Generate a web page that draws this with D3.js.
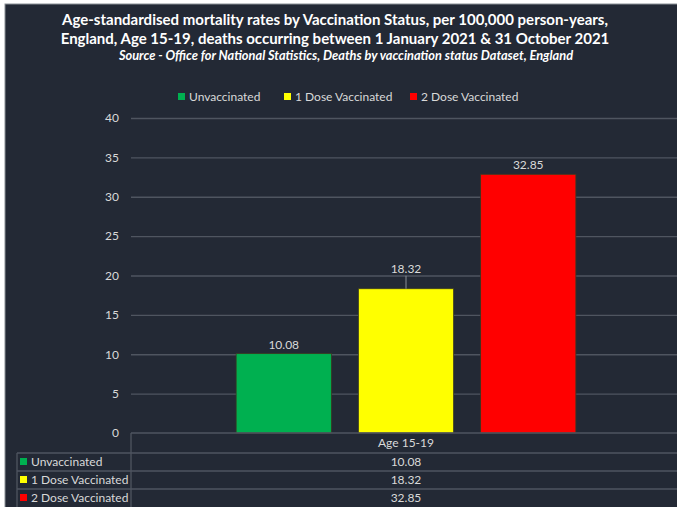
<!DOCTYPE html>
<html>
<head>
<meta charset="utf-8">
<script src="https://cdn.jsdelivr.net/npm/d3@7"></script>
<style>
  body { margin: 0; background: #ffffff; }
  svg { display: block; }
</style>
</head>
<body>
<div id="chart"></div>
<script>
// data
var categories = ["Age 15-19"],
	series = ["Unvaccinated", "1 Dose Vaccinated", "2 Dose Vaccinated"],
	values = [10.08, 18.32, 32.85],
	colors = ["#00b050", "#ffff00", "#ff0000"],
	yTicks = [0, 5, 10, 15, 20, 25, 30, 35, 40];

var width = 677,
	height = 507,
	BG = "#232935",
	GRID = "#4f5560",
	TEXT = "#d9d9d9",
	FONT = "Lato, 'Open Sans', sans-serif";

var svg = d3.select("#chart").append("svg")
	.attr("width", width)
	.attr("height", height);

// dark chart area, with a thin light rim on top and left
svg.append("rect")
	.attr("x", 5).attr("y", 4)
	.attr("width", width).attr("height", height)
	.style("fill", BG)
	.style("stroke", "#8a8f96")
	.style("stroke-width", 1);

// titles
var titles = svg.append("g").style("font-family", FONT).style("text-anchor", "middle");
titles.append("text")
	.attr("x", 335).attr("y", 25)
	.text("Age-standardised mortality rates by Vaccination Status, per 100,000 person-years,")
	.style("fill", "#ffffff").style("font-weight", "bold").style("font-size", "15px");
titles.append("text")
	.attr("x", 335).attr("y", 44)
	.text("England, Age 15-19, deaths occurring between 1 January 2021 & 31 October 2021")
	.style("fill", "#ffffff").style("font-weight", "bold").style("font-size", "15px");
titles.append("text")
	.attr("x", 346).attr("y", 60)
	.text("Source - Office for National Statistics, Deaths by vaccination status Dataset, England")
	.style("fill", "#ffffff").style("font-weight", "bold").style("font-style", "italic").style("font-size", "12.8px");

// legend on top
var legendX = [178, 284, 410];
var legend = svg.append("g").attr("id", "legend");
var items = legend.selectAll(".item")
	.data(series)
	.enter()
	.append("g")
	.attr("transform", function(d, i) { return "translate(" + legendX[i] + ",97)"; });
items.append("rect")
	.attr("x", 0).attr("y", -4)
	.attr("width", 7).attr("height", 7)
	.style("fill", function(d, i) { return colors[i]; });
items.append("text")
	.attr("x", 11).attr("y", 4)
	.text(function(d) { return d; })
	.style("fill", TEXT).style("font-family", FONT).style("font-size", "12px");

// scales
var plot = { left: 131, right: 681, top: 118, bottom: 433 };

var y = d3.scaleLinear()
	.domain([0, 40])
	.range([plot.bottom, plot.top]);

var x0 = d3.scaleBand()
	.domain(categories)
	.range([plot.left, plot.right]);

var x1 = d3.scaleBand()
	.domain(series)
	.range([0, x0.bandwidth()])
	.paddingInner(0.221)
	.paddingOuter(0.86);

// gridlines + y labels
var yAxis = d3.axisLeft(y)
	.tickValues(yTicks)
	.tickSize(-(plot.right - plot.left))
	.tickPadding(12)
	.tickFormat(d3.format("d"));

var yg = svg.append("g")
	.attr("transform", "translate(" + plot.left + ",0)")
	.call(yAxis);
yg.select(".domain").remove();
yg.selectAll(".tick line")
	.style("stroke", GRID).style("stroke-width", 1.3)
	.filter(function(d) { return d === 0; }).remove();
yg.selectAll(".tick text")
	.style("fill", TEXT).style("font-family", FONT).style("font-size", "12px");

// bars
var groups = svg.selectAll(".cat")
	.data(categories)
	.enter()
	.append("g")
	.attr("transform", function(d) { return "translate(" + x0(d) + ",0)"; });

var bars = groups.selectAll(".bar")
	.data(function(d) { return series.map(function(s, i) { return { s: s, v: values[i], c: colors[i] }; }); })
	.enter();

bars.append("rect")
	.attr("x", function(d) { return x1(d.s); })
	.attr("y", function(d) { return y(d.v); })
	.attr("width", x1.bandwidth())
	.attr("height", function(d) { return y(0) - y(d.v); })
	.style("fill", function(d) { return d.c; })
	.style("stroke", "#3a3a20")
	.style("stroke-width", 0.8);

// leader line for the middle label (it sits above a gridline)
bars.filter(function(d, i) { return i === 1; })
	.append("line")
	.attr("x1", function(d) { return x1(d.s) + x1.bandwidth() / 2; })
	.attr("x2", function(d) { return x1(d.s) + x1.bandwidth() / 2; })
	.attr("y1", function(d) { return y(d.v) - 13; })
	.attr("y2", function(d) { return y(d.v); })
	.style("stroke", "#8a8f96").style("stroke-width", 1);

bars.append("text")
	.attr("x", function(d) { return x1(d.s) + x1.bandwidth() / 2; })
	.attr("y", function(d, i) { return y(d.v) - (i === 1 ? 16 : 5); })
	.text(function(d) { return d3.format(".2f")(d.v); })
	.style("fill", TEXT).style("font-family", FONT).style("font-size", "12px")
	.style("text-anchor", "middle");

// data table under the chart
var rowTop = [433, 453, 471, 489],
	rowBottom = 507,
	tableLeft = 17;
var table = svg.append("g").attr("id", "table");
var lineStyle = function(sel) { return sel.style("stroke", GRID).style("stroke-width", 1.3); };

table.append("line").attr("x1", plot.left).attr("x2", width).attr("y1", rowTop[0]).attr("y2", rowTop[0]).call(lineStyle);
rowTop.slice(1).forEach(function(ry) {
	table.append("line").attr("x1", tableLeft).attr("x2", width).attr("y1", ry).attr("y2", ry).call(lineStyle);
});
table.append("line").attr("x1", plot.left).attr("x2", plot.left).attr("y1", rowTop[0]).attr("y2", rowBottom).call(lineStyle);
table.append("line").attr("x1", tableLeft).attr("x2", tableLeft).attr("y1", rowTop[1]).attr("y2", rowBottom).call(lineStyle);

categories.forEach(function(c) {
	table.append("text")
		.attr("x", x0(c) + x0.bandwidth() / 2).attr("y", 447)
		.text(c)
		.style("fill", TEXT).style("font-family", FONT).style("font-size", "12px")
		.style("text-anchor", "middle");
});

series.forEach(function(s, i) {
	var cy = (rowTop[i + 1] + (rowTop[i + 2] || rowBottom)) / 2;
	table.append("rect")
		.attr("x", 20).attr("y", cy - 4)
		.attr("width", 7).attr("height", 7)
		.style("fill", colors[i]);
	table.append("text")
		.attr("x", 31).attr("y", cy + 4)
		.text(s)
		.style("fill", TEXT).style("font-family", FONT).style("font-size", "12px");
	table.append("text")
		.attr("x", x0(categories[0]) + x0.bandwidth() / 2).attr("y", cy + 4)
		.text(d3.format(".2f")(values[i]))
		.style("fill", TEXT).style("font-family", FONT).style("font-size", "12px")
		.style("text-anchor", "middle");
});
</script>
</body>
</html>
